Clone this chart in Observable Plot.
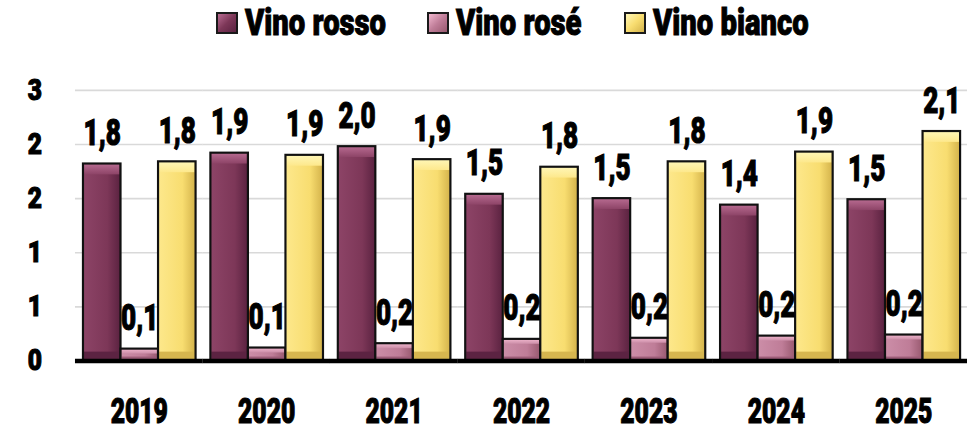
<!DOCTYPE html>
<html>
<head>
<meta charset="utf-8">
<script src="https://cdn.jsdelivr.net/npm/d3@7"></script>
<script src="https://cdn.jsdelivr.net/npm/@observablehq/plot@0.6"></script>
<style>
  html, body { margin: 0; padding: 0; background: #fff; overflow: hidden; width: 967px; height: 428px; }
  body { position: relative; font-family: Roboto, sans-serif; }
  #chart svg { display: block; overflow: visible; font-family: Roboto, sans-serif; }
  #chart svg text { font-family: Roboto, sans-serif; font-weight: 900; fill: #000; stroke: #000; stroke-width: 1.1px; }
  g[aria-label*="y-axis"] text { font-size: 29px; }
  g[aria-label*="fx-axis"] text { font-size: 35px; }
  .legend-item { position: absolute; top: 0; height: 46px; display: flex; align-items: center; white-space: nowrap; }
  .legend-swatch { width: 18px; height: 18px; border: 2px solid #1a1a1a; margin-right: 7px; flex: none; }
  .legend-label { font-size: 37px; font-weight: 900; color: #000; line-height: 46px; display: inline-block; transform-origin: 0 50%; -webkit-text-stroke: 1px #000; }
</style>
</head>
<body>
<div id="legend"></div>
<div id="chart"></div>
<script>
// ---- data ----
const years = ["2019", "2020", "2021", "2022", "2023", "2024", "2025"];
const seriesNames = ["Vino rosso", "Vino rosé", "Vino bianco"];
const rosso  = [1.82, 1.92, 1.98, 1.54, 1.50, 1.44, 1.49];
const rose   = [0.11, 0.12, 0.16, 0.20, 0.21, 0.23, 0.24];
const bianco = [1.84, 1.90, 1.86, 1.79, 1.84, 1.93, 2.12];
const yTicks = [0, 0.5, 1, 1.5, 2, 2.5];
const yTickLabels = ["0", "1", "1", "2", "2", "3"];

// ---- styles ----
const palette = {
  "Vino rosso":  {id: "gRosso",  body: ["#8d4467", "#7d3758", "#5a2240"], top: ["#b96c92", "#8d4467"], bottom: "#5c2342", bevel: 11},
  "Vino rosé":   {id: "gRose",   body: ["#cc8ea8", "#bf7d98", "#98596f"], top: ["#f2b8cf", "#cc8ea8"], bottom: "#9d5d78", bevel: 5},
  "Vino bianco": {id: "gBianco", body: ["#fde88c", "#f8dd70", "#d3b24a"], top: ["#fff7b8", "#fde88c"], bottom: "#d6b64f", bevel: 11}
};
const legendLeft = {"Vino rosso": 216, "Vino rosé": 427, "Vino bianco": 624};

const rows = years.flatMap((year, i) => [
  {year, series: seriesNames[0], value: rosso[i]},
  {year, series: seriesNames[1], value: rose[i]},
  {year, series: seriesNames[2], value: bianco[i]}
]);

const fmt = v => v.toFixed(1).replace(".", ",");
const fontFamily = 'Roboto, sans-serif';

const marks = [
  Plot.ruleY(yTicks.slice(1), {stroke: "#d9d9d9", strokeWidth: 1.6, insetLeft: -7.1, insetRight: -7.1})
];
for (const s of seriesNames) {
  const p = palette[s];
  const f = d => d.series === s;
  marks.push(
    Plot.barY(rows, {filter: f, x: "series", y: "value", fill: `url(#${p.id}Body)`}),
    Plot.barY(rows, {filter: f, x: "series", y1: "value", y2: "value", insetTop: 0, insetBottom: -p.bevel, insetLeft: 1, insetRight: 1, fill: `url(#${p.id}Top)`}),
    Plot.barY(rows, {filter: f, x: "series", y1: 0, y2: 0, insetTop: -Math.round(p.bevel * 0.8), insetBottom: 0, insetLeft: 1, insetRight: 1, fill: p.bottom}),
    Plot.barY(rows, {filter: f, x: "series", y: "value", fill: "none", stroke: "#111", strokeWidth: 2.2})
  );
}
marks.push(
  Plot.ruleY([0], {stroke: "#000", strokeWidth: 4.5, insetLeft: -7.1, insetRight: -7.1}),
  Plot.text(rows, {x: "series", y: "value", text: d => fmt(d.value), dy: -31, fontSize: 37, fontWeight: 900, fill: "#000", fontFamily})
);

const chart = Plot.plot({
  width: 979,
  height: 428,
  marginLeft: 76,
  marginRight: 0,
  marginTop: 91,
  marginBottom: 63,
  style: {fontFamily, background: "transparent", overflow: "visible"},
  facet: {data: rows, x: "year"},
  fx: {domain: years, paddingInner: 0.11, paddingOuter: 0.055, axis: "bottom", tickSize: 0, tickPadding: 38, label: null},
  x: {domain: seriesNames, padding: 0, axis: null},
  y: {domain: [0, 2.5], ticks: yTicks, tickFormat: d => yTickLabels[yTicks.indexOf(d)], tickSize: 0, tickPadding: 41, label: null},
  marks
});

// gradient definitions
const ns = "http://www.w3.org/2000/svg";
const defs = document.createElementNS(ns, "defs");
let html = "";
for (const s of seriesNames) {
  const p = palette[s];
  html += `<linearGradient id="${p.id}Body" x1="0" x2="1" y1="0" y2="0">
      <stop offset="0" stop-color="${p.body[0]}"/><stop offset="0.65" stop-color="${p.body[1]}"/><stop offset="1" stop-color="${p.body[2]}"/></linearGradient>
    <linearGradient id="${p.id}Top" x1="0" x2="0" y1="0" y2="1">
      <stop offset="0" stop-color="${p.top[0]}"/><stop offset="1" stop-color="${p.top[1]}"/></linearGradient>`;
}
defs.innerHTML = html;
chart.insertBefore(defs, chart.firstChild);
document.getElementById("chart").appendChild(chart);

// condense the text (reference uses a condensed heavy face)
const probe = document.createElementNS(ns, "text");
probe.setAttribute("font-size", 35);
probe.textContent = "2019";
chart.appendChild(probe);
const kText = 58 / probe.getComputedTextLength();
probe.remove();
chart.querySelectorAll("text").forEach(t => {
  const len = t.getComputedTextLength();
  const inY = t.closest('g[aria-label*="y-axis"]') !== null;
  const k = inY ? Math.min(1, kText * 1.2) : kText;
  if (len > 0) {
    t.setAttribute("textLength", (len * k).toFixed(2));
    t.setAttribute("lengthAdjust", "spacingAndGlyphs");
  }
});

// legend
const legend = document.getElementById("legend");
legend.style.position = "absolute";
legend.style.left = "0";
legend.style.top = "0";
legend.style.zIndex = "2";
const labels = [];
for (const s of seriesNames) {
  const p = palette[s];
  const item = document.createElement("div");
  item.className = "legend-item";
  item.style.left = legendLeft[s] + "px";
  const sw = document.createElement("div");
  sw.className = "legend-swatch";
  sw.style.background = `linear-gradient(135deg, ${p.top[0]} 0%, ${p.body[1]} 50%, ${p.body[2]} 100%)`;
  const lab = document.createElement("span");
  lab.className = "legend-label";
  lab.textContent = s;
  item.appendChild(sw);
  item.appendChild(lab);
  legend.appendChild(item);
  labels.push(lab);
}
const kLegend = 141 / labels[0].getBoundingClientRect().width;
labels.forEach(l => { l.style.transform = `scaleX(${kLegend})`; });
</script>
</body>
</html>
